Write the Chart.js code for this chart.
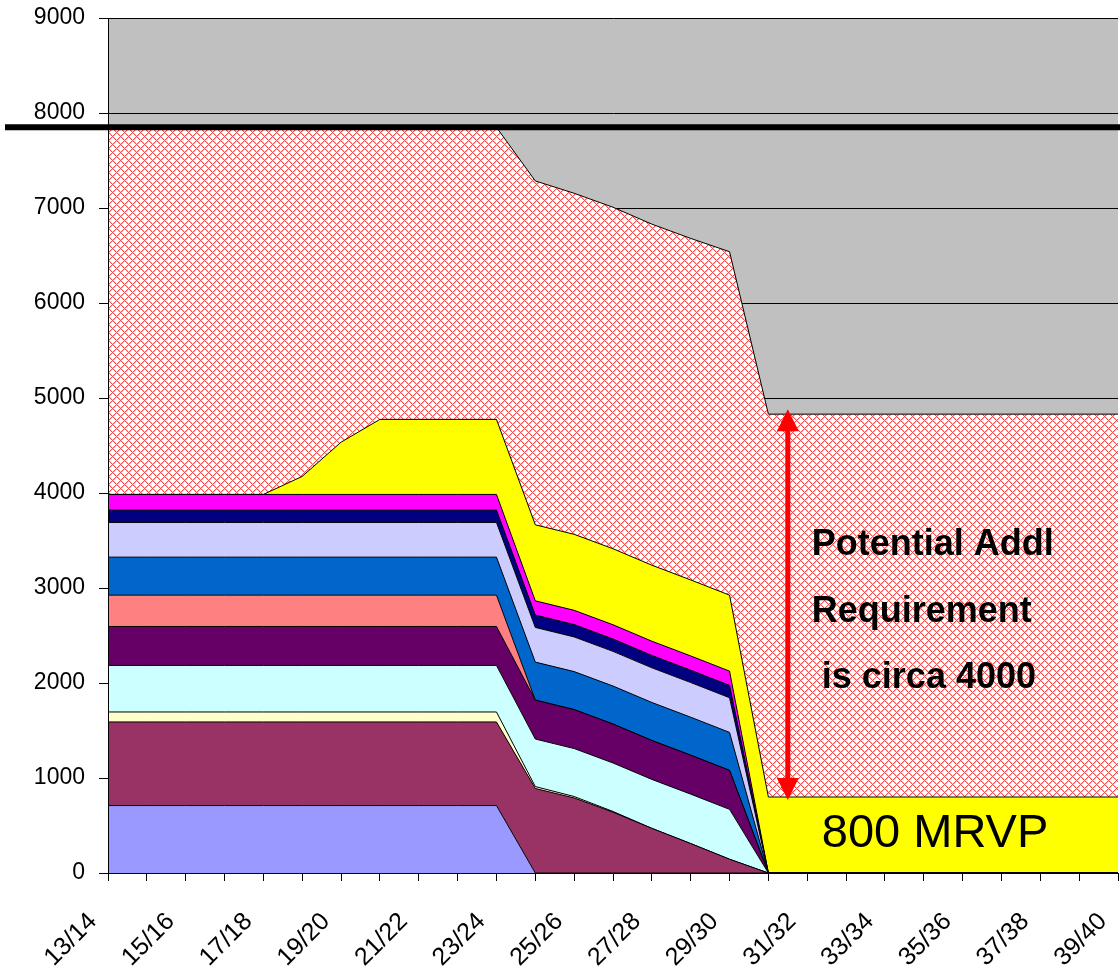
<!DOCTYPE html>
<html>
<head>
<meta charset="utf-8">
<script src="https://cdn.jsdelivr.net/npm/chart.js@4.4.1/dist/chart.umd.min.js"></script>
<style>
  body { margin: 0; background: #fff; }
  #wrap { width: 1120px; height: 966px; }
</style>
</head>
<body>
<div id="wrap"><canvas id="chartCanvas" width="1120" height="966"></canvas></div>
<script>
// categories (financial years)
const years = ['13/14', '14/15', '15/16', '16/17', '17/18', '18/19', '19/20', '20/21', '21/22',
    '22/23', '23/24', '24/25', '25/26', '26/27', '27/28', '28/29', '29/30', '30/31', '31/32',
    '32/33', '33/34', '34/35', '35/36', '36/37', '37/38', '38/39', '39/40'];

// stacked series, bottom to top
const lavender = [710, 710, 710, 710, 710, 710, 710, 710, 710, 710, 710, 0, 0, 0, 0, 0, 0, 0, 0, 0, 0, 0, 0, 0, 0, 0, 0];
const maroon = [880, 880, 880, 880, 880, 880, 880, 880, 880, 880, 880, 890, 790, 640, 470, 310, 145, 0, 0, 0, 0, 0, 0, 0, 0, 0, 0];
const cream = [105, 105, 105, 105, 105, 105, 105, 105, 105, 105, 105, 20, 15, 8, 0, 0, 0, 0, 0, 0, 0, 0, 0, 0, 0, 0, 0];
const cyan = [490, 490, 490, 490, 490, 490, 490, 490, 490, 490, 490, 500, 505, 510, 515, 520, 525, 0, 0, 0, 0, 0, 0, 0, 0, 0, 0];
const plum = [410, 410, 410, 410, 410, 410, 410, 410, 410, 410, 410, 410, 410, 410, 410, 410, 410, 0, 0, 0, 0, 0, 0, 0, 0, 0, 0];
const salmon = [330, 330, 330, 330, 330, 330, 330, 330, 330, 330, 330, 0, 0, 0, 0, 0, 0, 0, 0, 0, 0, 0, 0, 0, 0, 0, 0];
const blue = [400, 400, 400, 400, 400, 400, 400, 400, 400, 400, 400, 400, 400, 400, 400, 400, 400, 0, 0, 0, 0, 0, 0, 0, 0, 0, 0];
const lilac = [365, 365, 365, 365, 365, 365, 365, 365, 365, 365, 365, 365, 365, 365, 365, 365, 365, 0, 0, 0, 0, 0, 0, 0, 0, 0, 0];
const navy = [130, 130, 130, 130, 130, 130, 130, 130, 130, 130, 130, 130, 130, 130, 130, 130, 130, 0, 0, 0, 0, 0, 0, 0, 0, 0, 0];
const magenta = [165, 165, 165, 165, 165, 165, 165, 165, 165, 165, 165, 150, 150, 150, 150, 150, 150, 0, 0, 0, 0, 0, 0, 0, 0, 0, 0];
const mrvp = [0, 0, 0, 0, 0, 190, 550, 790, 790, 790, 790, 800, 800, 800, 800, 800, 800, 800, 800, 800, 800, 800, 800, 800, 800, 800, 800];
const potential = [3865, 3865, 3865, 3865, 3865, 3675, 3315, 3075, 3075, 3075, 3075, 3620, 3590, 3595, 3590, 3595, 3615,
    4030, 4030, 4030, 4030, 4030, 4030, 4030, 4030, 4030, 4030];

const yTicks = [0, 1000, 2000, 3000, 4000, 5000, 6000, 7000, 8000, 9000];
const capLine = 7850;

const font = "'Liberation Sans', Arial, sans-serif";

// red diagonal crosshatch on white
function hatch() {
    const c = document.createElement('canvas');
    c.width = 8;
    c.height = 8;
    const g = c.getContext('2d');
    g.fillStyle = '#ffffff';
    g.fillRect(0, 0, 8, 8);
    for (let i = 0; i < 8; i++) {
        for (let j = 0; j < 8; j++) {
            const a = (i + j) % 8, b = (i - j + 8) % 8;
            if (a === 0 || b === 0) {
                g.fillStyle = '#ff4848';
                g.fillRect(i, j, 1, 1);
            } else if (a === 1 || b === 1) {
                g.fillStyle = '#ffc0c0';
                g.fillRect(i, j, 1, 1);
            }
        }
    }
    return g.createPattern(c, 'repeat');
}

function area(label, data, color, fill) {
    return {
        label: label,
        data: data,
        backgroundColor: color,
        borderColor: '#000',
        borderWidth: 1,
        fill: fill,
        pointRadius: 0,
        tension: 0
    };
}

// grey plot area like the old excel default
const plotBackground = {
    id: 'plotBackground',
    beforeDraw(chart) {
        const { ctx, chartArea } = chart;
        ctx.save();
        ctx.fillStyle = '#fff';
        ctx.fillRect(0, 0, chart.width, chart.height);
        ctx.fillStyle = '#c0c0c0';
        ctx.fillRect(chartArea.left, chartArea.top, chartArea.right - chartArea.left, chartArea.bottom - chartArea.top);
        ctx.restore();
    }
};

const notes = {
    id: 'notes',
    afterDraw(chart) {
        const { ctx, scales } = chart;
        const x = scales.x, y = scales.y;
        ctx.save();

        // thick limit line
        const ly = y.getPixelForValue(capLine);
        ctx.strokeStyle = '#000';
        ctx.lineWidth = 6;
        ctx.beginPath();
        ctx.moveTo(5, ly);
        ctx.lineTo(chart.width, ly);
        ctx.stroke();

        // red double arrow across the potential requirement
        const last = years.length - 1;
        const ax = (x.getPixelForValue(17) + x.getPixelForValue(18)) / 2;
        const top = y.getPixelForValue(mrvp[last] + potential[last]) - 5;
        const bottom = y.getPixelForValue(mrvp[last]) + 3;
        const head = 22;
        ctx.strokeStyle = '#ff0000';
        ctx.fillStyle = '#ff0000';
        ctx.lineWidth = 5;
        ctx.beginPath();
        ctx.moveTo(ax, top + head - 2);
        ctx.lineTo(ax, bottom - head + 2);
        ctx.stroke();
        ctx.beginPath();
        ctx.moveTo(ax, top);
        ctx.lineTo(ax + head / 2, top + head);
        ctx.lineTo(ax - head / 2, top + head);
        ctx.closePath();
        ctx.fill();
        ctx.beginPath();
        ctx.moveTo(ax, bottom);
        ctx.lineTo(ax + head / 2, bottom - head);
        ctx.lineTo(ax - head / 2, bottom - head);
        ctx.closePath();
        ctx.fill();

        // texts
        ctx.fillStyle = '#000';
        ctx.textAlign = 'left';
        ctx.textBaseline = 'alphabetic';
        ctx.font = 'bold 36px ' + font;
        ctx.fillText('Potential Addl', ax + 24, 555);
        ctx.fillText('Requirement', ax + 24, 622);
        ctx.fillText('is circa 4000', ax + 34, 688);
        ctx.font = '47px ' + font;
        ctx.fillText('800 MRVP', ax + 34, 847);
        ctx.restore();
    }
};

const chart = new Chart(document.querySelector('#chartCanvas'), {
    type: 'line',
    data: {
        labels: years,
        datasets: [
            area('A', lavender, '#9999ff', 'origin'),
            area('B', maroon, '#993366', '-1'),
            area('C', cream, '#ffffcc', '-1'),
            area('D', cyan, '#ccffff', '-1'),
            area('E', plum, '#660066', '-1'),
            area('F', salmon, '#ff8080', '-1'),
            area('G', blue, '#0066cc', '-1'),
            area('H', lilac, '#ccccff', '-1'),
            area('I', navy, '#000080', '-1'),
            area('J', magenta, '#ff00ff', '-1'),
            area('MRVP', mrvp, '#ffff00', '-1'),
            area('Potential', potential, hatch(), '-1')
        ]
    },
    options: {
        responsive: false,
        animation: false,
        devicePixelRatio: 1,
        layout: { padding: { top: 18, right: 2, left: 0, bottom: 0 } },
        plugins: {
            legend: { display: false },
            tooltip: { enabled: false }
        },
        scales: {
            x: {
                offset: false,
                grid: { display: true, drawOnChartArea: false, color: '#000', tickLength: 8 },
                border: { color: '#000', z: 1 },
                ticks: {
                    autoSkip: false,
                    minRotation: 45,
                    maxRotation: 45,
                    padding: 26,
                    labelOffset: -15,
                    color: '#000',
                    font: { family: font, size: 25 },
                    callback: (v, i) => (i % 2 === 0 ? years[i] : '')
                },
                afterFit: (s) => { s.height = 93; s.paddingLeft = 0; s.paddingRight = 0; }
            },
            y: {
                stacked: true,
                min: 0,
                max: 9000,
                afterBuildTicks: (s) => { s.ticks = yTicks.map(v => ({ value: v })); },
                grid: { color: '#000', tickLength: 9 },
                border: { color: '#000', z: 1 },
                ticks: {
                    padding: 14,
                    color: '#000',
                    font: { family: font, size: 23 },
                    callback: (v) => String(v)
                },
                afterFit: (s) => { s.width = 108; s.paddingTop = 0; s.paddingBottom = 0; }
            }
        }
    },
    plugins: [plotBackground, notes]
});
</script>
</body>
</html>
